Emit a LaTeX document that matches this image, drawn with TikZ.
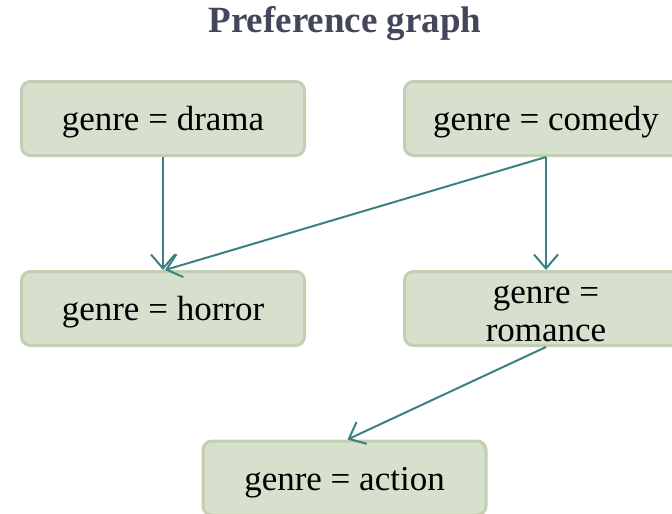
\documentclass[tikz,border=0pt]{standalone}
\usepackage{fontspec}
\setmainfont{Liberation Serif}
\usetikzlibrary{arrows.meta}
\definecolor{boxfill}{HTML}{D7E0CC}
\definecolor{boxedge}{HTML}{C3CEB3}
\definecolor{arrowc}{HTML}{3D8081}
\definecolor{titlec}{HTML}{444659}
\tikzset{
  genrebox/.style={draw=boxedge, fill=boxfill, line width=3pt, rounded corners=9pt,
    minimum width=283pt, minimum height=74pt, inner sep=2pt, align=center,
    text height=32pt, font=\fontsize{35}{38}\selectfont},
  prefarrow/.style={draw=arrowc, line width=2pt,
    -{Straight Barb[length=14pt,width=24pt,line width=2pt]}}
}
\begin{document}
\begin{tikzpicture}[x=1pt,y=-1pt]
\useasboundingbox (0,0) rectangle (672,514);
\clip (0,0) rectangle (672,514);
\node[font=\fontsize{37}{40}\selectfont\bfseries, text=titlec] (title) at (345,24) {Preference graph};
\node[genrebox] (drama) at (163,118.5) {genre = drama};
\node[genrebox] (comedy) at (546,118.5) {genre = comedy};
\node[genrebox] (horror) at (163,308.5) {genre = horror};
\node[genrebox, text height=66pt] (romance) at (546,308.5) {genre =\\romance};
\node[genrebox] (action) at (344.5,478) {genre = action};
\draw[prefarrow] (drama.south) -- (horror.north);
\draw[prefarrow] (comedy.south) -- ([xshift=2pt]horror.north);
\draw[prefarrow] (comedy.south) -- (romance.north);
\draw[prefarrow] (romance.south) -- ([xshift=3pt]action.north);
\end{tikzpicture}
\end{document}
